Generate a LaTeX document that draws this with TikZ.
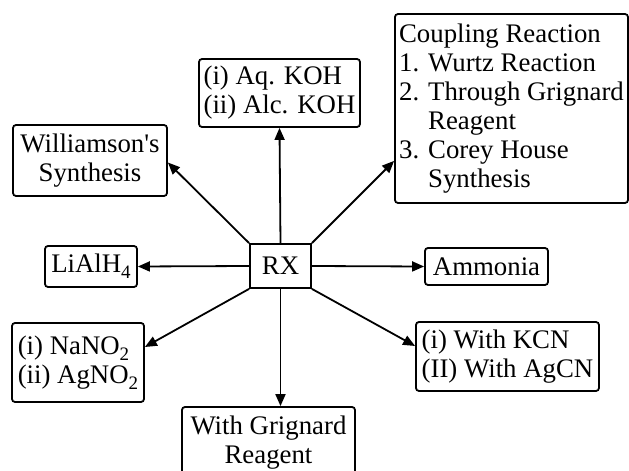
\documentclass[tikz,border=0pt]{standalone}
\usepackage{fontspec}
\setmainfont{Liberation Serif}
\usetikzlibrary{arrows.meta}
\newcommand{\low}[1]{\raisebox{-0.5ex}{\fontsize{9.5}{9.5}\selectfont #1}}

\begin{document}
\begin{tikzpicture}[x=0.5pt,y=-0.5pt,
  box/.style={draw,line width=0.9pt,rounded corners=1.5pt,inner sep=0pt,
    font=\fontsize{13.4}{14.5}\selectfont},
  arr/.style={line width=0.9pt,-{Triangle[length=6pt,width=5pt]}}]
\clip (0,0) rectangle (629,471);

\node[box,rounded corners=0pt,minimum width=30.5pt,minimum height=22pt] (rx) at (280.5,266) {RX};

\node[box,align=center,minimum width=77pt,minimum height=35.5pt] (will) at (90,160.5) {Williamson\textquotesingle s\\Synthesis};
\node[box,align=left,minimum width=80.5pt,minimum height=34pt] (aq) at (279.5,93) {(i) Aq. KOH\\(ii) Alc. KOH};
\node[box,align=left,minimum width=116.5pt,minimum height=94.5pt] (coup) at (511.5,108.5)
  {Coupling Reaction\\1. Wurtz Reaction\\2. Through Grignard\\\phantom{2. }Reagent\\3. Corey House\\\phantom{3. }Synthesis};
\node[box,minimum width=46pt,minimum height=20.5pt] (lial) at (91,266.5) {LiAlH\low{4}};
\node[box,minimum width=61.5pt,minimum height=18.5pt] (amm) at (486.5,266.5) {Ammonia};
\node[box,align=left,minimum width=66pt,minimum height=39.5pt] (nano) at (78,362.5) {(i) NaNO\low{2}\\(ii) AgNO\low{2}};
\node[box,align=left,minimum width=91.5pt,minimum height=34.5pt] (kcn) at (507.5,356.5) {(i) With KCN\\(II) With AgCN};
\node[box,align=center,minimum width=86.5pt,minimum height=35.5pt] (grig) at (268.5,442.5) {With Grignard\\Reagent};

\draw[arr] (rx.north west) -- ([yshift=-1pt]will.east);
\draw[arr] (rx.north) -- (aq.south);
\draw[arr] (rx.north east) -- ([yshift=21.5pt]coup.south west);
\draw[arr] (rx.west) -- (lial.east);
\draw[arr] (rx.east) -- (amm.west);
\draw[arr] (rx.south west) -- ([yshift=7.75pt]nano.east);
\draw[arr] (rx.south) -- (rx.south |- grig.north);
\draw[arr] (rx.south east) -- ([yshift=5.25pt]kcn.west);
\end{tikzpicture}
\end{document}
